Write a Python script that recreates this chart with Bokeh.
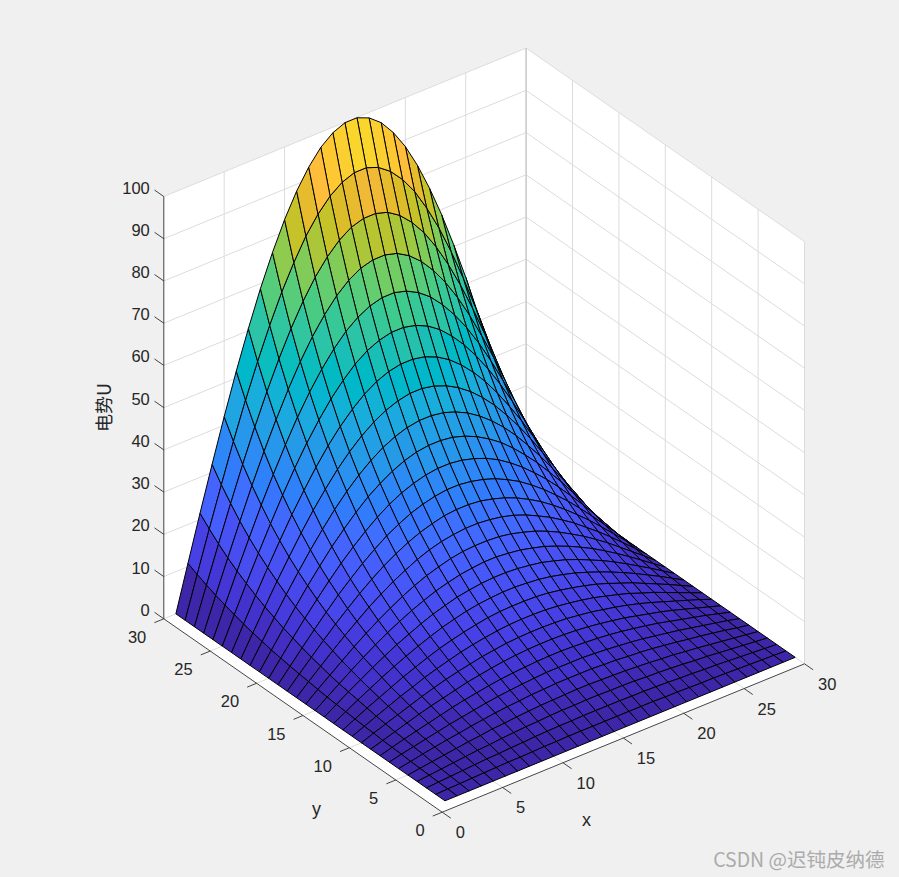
import numpy as np
from bokeh.plotting import figure
from bokeh.models import Range1d
from bokeh.core.properties import value
from bokeh.embed import file_html
from bokeh.resources import INLINE

# U values: rows y = 1..30, columns x = 1..15 (surface is symmetric in x)
U_LEFT = [
[0,0,0,0,0,0,0,0,0,0,0,0,0,0,0],
[0,.1,.2,.3,.4,.5,.6,.6,.7,.8,.8,.9,.9,.9,.9],
[0,.2,.4,.6,.8,1.0,1.1,1.3,1.4,1.6,1.7,1.8,1.8,1.9,1.9],
[0,.3,.6,.9,1.2,1.5,1.7,2.0,2.2,2.4,2.5,2.7,2.8,2.8,2.9],
[0,.4,.8,1.2,1.6,2.0,2.3,2.7,2.9,3.2,3.4,3.6,3.7,3.8,3.9],
[0,.5,1.1,1.6,2.1,2.5,3.0,3.4,3.8,4.1,4.3,4.6,4.7,4.9,4.9],
[0,.7,1.3,1.9,2.5,3.1,3.6,4.1,4.6,5.0,5.3,5.6,5.8,6.0,6.0],
[0,.8,1.6,2.3,3.0,3.7,4.4,5.0,5.5,6.0,6.4,6.7,6.9,7.1,7.2],
[0,.9,1.8,2.7,3.6,4.4,5.1,5.8,6.5,7.0,7.5,7.9,8.2,8.4,8.5],
[0,1.1,2.1,3.1,4.1,5.1,6.0,6.8,7.5,8.1,8.7,9.1,9.5,9.7,9.8],
[0,1.2,2.4,3.6,4.8,5.8,6.9,7.8,8.6,9.4,10.0,10.5,10.9,11.2,11.3],
[0,1.4,2.8,4.1,5.4,6.7,7.8,8.9,9.9,10.7,11.4,12.0,12.5,12.8,12.9],
[0,1.6,3.2,4.7,6.2,7.6,8.9,10.1,11.2,12.2,13.0,13.7,14.2,14.5,14.7],
[0,1.8,3.6,5.3,7.0,8.6,10.1,11.4,12.7,13.8,14.7,15.5,16.0,16.4,16.6],
[0,2.0,4.0,6.0,7.9,9.7,11.4,12.9,14.3,15.5,16.6,17.4,18.1,18.5,18.8],
[0,2.3,4.5,6.7,8.9,10.9,12.8,14.5,16.1,17.5,18.7,19.6,20.4,20.9,21.1],
[0,2.6,5.1,7.6,10.0,12.2,14.4,16.3,18.1,19.6,21.0,22.1,22.9,23.4,23.7],
[0,2.9,5.7,8.5,11.2,13.7,16.1,18.3,20.3,22.0,23.5,24.7,25.6,26.3,26.6],
[0,3.2,6.4,9.5,12.5,15.4,18.0,20.5,22.7,24.7,26.3,27.7,28.7,29.4,29.8],
[0,3.6,7.2,10.7,14.0,17.2,20.2,22.9,25.4,27.6,29.5,31.0,32.1,32.9,33.3],
[0,4.0,8.0,11.9,15.7,19.2,22.6,25.6,28.4,30.9,32.9,34.6,35.9,36.8,37.2],
[0,4.5,9.0,13.3,17.5,21.5,25.2,28.7,31.8,34.5,36.8,38.7,40.1,41.1,41.6],
[0,5.0,10.0,14.9,19.5,24.0,28.2,32.0,35.5,38.5,41.1,43.2,44.8,45.9,46.5],
[0,5.6,11.2,16.6,21.8,26.8,31.4,35.7,39.6,43.0,45.9,48.3,50.1,51.3,51.9],
[0,6.3,12.5,18.5,24.3,29.9,35.1,39.9,44.2,48.0,51.2,53.9,55.9,57.2,57.9],
[0,7.0,13.9,20.6,27.2,33.3,39.1,44.5,49.3,53.5,57.1,60.1,62.3,63.8,64.6],
[0,7.8,15.5,23.0,30.3,37.2,43.6,49.6,55.0,59.7,63.7,67.0,69.5,71.2,72.0],
[0,8.7,17.3,25.7,33.8,41.5,48.7,55.3,61.3,66.6,71.1,74.7,77.5,79.4,80.3],
[0,9.7,19.3,28.6,37.7,46.3,54.3,61.7,68.4,74.2,79.3,83.3,86.4,88.5,89.6],
[0,10.8,21.5,31.9,42.0,51.6,60.5,68.8,76.2,82.8,88.4,92.9,96.4,98.7,99.9],
]
X_TICKS = [0, 5, 10, 15, 20, 25, 30]
Y_TICKS = [0, 5, 10, 15, 20, 25, 30]
Z_TICKS = [0, 10, 20, 30, 40, 50, 60, 70, 80, 90, 100]
X_LABEL = "x"
Y_LABEL = "y"
Z_LABEL = "电势U"
WATERMARK = "CSDN @迟钝皮纳德"
PARULA = [
[.2422,.1504,.6603],[.2504,.1650,.7076],[.2578,.1818,.7511],[.2647,.1978,.7952],
[.2706,.2147,.8364],[.2751,.2342,.8710],[.2783,.2559,.8991],[.2803,.2782,.9221],
[.2813,.3006,.9414],[.2810,.3228,.9579],[.2795,.3447,.9717],[.2760,.3667,.9829],
[.2699,.3892,.9906],[.2602,.4123,.9952],[.2440,.4358,.9988],[.2206,.4603,.9973],
[.1963,.4847,.9892],[.1834,.5074,.9798],[.1786,.5289,.9682],[.1764,.5499,.9520],
[.1687,.5703,.9359],[.1540,.5902,.9218],[.1460,.6091,.9079],[.1380,.6276,.8973],
[.1248,.6459,.8883],[.1113,.6635,.8763],[.0952,.6798,.8598],[.0689,.6948,.8394],
[.0297,.7082,.8163],[.0036,.7203,.7917],[.0067,.7312,.7660],[.0433,.7411,.7394],
[.0964,.7500,.7120],[.1408,.7584,.6842],[.1717,.7670,.6554],[.1938,.7758,.6251],
[.2161,.7843,.5923],[.2470,.7918,.5567],[.2906,.7973,.5188],[.3406,.8008,.4789],
[.3909,.8029,.4354],[.4456,.8024,.3909],[.5044,.7993,.3480],[.5616,.7942,.3045],
[.6174,.7876,.2612],[.6720,.7793,.2227],[.7242,.7698,.1910],[.7738,.7598,.1646],
[.8203,.7498,.1535],[.8634,.7406,.1596],[.9035,.7330,.1774],[.9393,.7288,.2100],
[.9728,.7298,.2394],[.9956,.7434,.2371],[.9970,.7659,.2199],[.9952,.7861,.1963],
[.9892,.8136,.1885],[.9786,.8386,.1766],[.9676,.8639,.1643],[.9610,.8890,.1537],
[.9597,.9135,.1423],[.9628,.9373,.1265],[.9691,.9606,.1064],[.9769,.9839,.0805],
]

half = np.array(U_LEFT, dtype=float)
Z = np.hstack([half, half[:, ::-1]])
ny, nx = Z.shape
gx = np.arange(1, nx + 1, dtype=float)
gy = np.arange(1, ny + 1, dtype=float)


def proj(x, y, z):
    x, y, z = np.asarray(x, float), np.asarray(y, float), np.asarray(z, float)
    return (441.7 + x * 362.3 / 30 - y * 278.4 / 30,
            811.7 - x * 148.4 / 30 - y * 193.4 / 30 - z * 422.3 / 100)


def seg(a, b):
    px, py = proj([a[0], b[0]], [a[1], b[1]], [a[2], b[2]])
    return list(px), list(py)


p = figure(width=899, height=877, x_range=Range1d(0, 899), y_range=Range1d(877, 0),
           output_backend="svg", toolbar_location=None, min_border=0)
p.axis.visible = False
p.grid.visible = False
p.outline_line_color = None
p.background_fill_color = "#f0f0f0"
p.border_fill_color = "#f0f0f0"

# white panes
panes = [[(0, 0, 0), (30, 0, 0), (30, 30, 0), (0, 30, 0)],
         [(0, 30, 0), (30, 30, 0), (30, 30, 100), (0, 30, 100)],
         [(30, 30, 0), (30, 0, 0), (30, 0, 100), (30, 30, 100)]]
pxs, pys = [], []
for pane in panes:
    a = np.array(pane, float)
    u, v = proj(a[:, 0], a[:, 1], a[:, 2])
    pxs.append(list(u)); pys.append(list(v))
p.patches(pxs, pys, fill_color="white", line_color=None)

# grid lines
gxs, gys = [], []
def add(a, b):
    u, v = seg(a, b)
    gxs.append(u); gys.append(v)
for t in X_TICKS[1:]:
    add((t, 0, 0), (t, 30, 0))
    add((t, 30, 0), (t, 30, 100))
for t in Y_TICKS[1:]:
    add((0, t, 0), (30, t, 0))
    add((30, t, 0), (30, t, 100))
add((30, 0, 0), (30, 0, 100))
for t in Z_TICKS[1:]:
    add((0, 30, t), (30, 30, t))
    add((30, 30, t), (30, 0, t))
p.multi_line(gxs, gys, line_color="#dcdcdc", line_width=1)
u, v = seg((30, 30, 0), (30, 30, 100))
p.line(u, v, line_color="#c4c4c4", line_width=1)

# surface, far cells first
cells = []
for j in range(ny - 1):
    for i in range(nx - 1):
        xc = (gx[i] + gx[i + 1]) / 2
        yc = (gy[j] + gy[j + 1]) / 2
        zc = Z[j:j + 2, i:i + 2].mean()
        depth = 117 * xc / 30 + 153 * yc / 30 - 111 * zc / 100
        cells.append((depth, i, j))
cells.sort(reverse=True)
sx, sy, fc = [], [], []
vmax = Z.max()
for _, i, j in cells:
    u, v = proj([gx[i], gx[i + 1], gx[i + 1], gx[i]],
                [gy[j], gy[j], gy[j + 1], gy[j + 1]],
                [Z[j, i], Z[j, i + 1], Z[j + 1, i + 1], Z[j + 1, i]])
    sx.append(list(u)); sy.append(list(v))
    k = min(int(Z[j, i] / vmax * 64), 63)
    r, g, b = PARULA[k]
    fc.append("#%02x%02x%02x" % (round(r * 255), round(g * 255), round(b * 255)))
p.patches(sx, sy, fill_color=fc, line_color="#000000", line_width=1)

# axes and ticks
ax_col = "#262626"
axs, ays = [], []
def addax(a, b):
    u, v = seg(a, b)
    axs.append(u); ays.append(v)
addax((0, 0, 0), (30, 0, 0))
addax((0, 0, 0), (0, 30, 0))
addax((0, 30, 0), (0, 30, 100))
for t in X_TICKS:
    addax((t, 0, 0), (t, -0.93, 0))
for t in Y_TICKS:
    addax((0, t, 0), (-0.78, t, 0))
for t in Z_TICKS:
    addax((0, 30, t), (0, 31, t))
p.multi_line(axs, ays, line_color=ax_col, line_width=1, line_alpha=0.85)

font = value("Liberation Sans")
def labels(ticks, xv, yv, dx, dy, align):
    u = np.asarray(xv) + dx
    v = np.asarray(yv) + dy
    p.text(list(u), list(v), text=[str(t) for t in ticks], text_font=font,
           text_font_size="16.5px", text_color=ax_col, text_align=align,
           text_baseline="middle")

u, v = proj(X_TICKS, np.zeros(7), np.zeros(7))
labels(X_TICKS, u, v, 13.5, 20, "left")
u, v = proj(np.zeros(7), Y_TICKS, np.zeros(7))
labels(Y_TICKS, u, v, -17.5, 18, "right")
u, v = proj(np.zeros(11), np.full(11, 30.0), Z_TICKS)
labels(Z_TICKS, u, v, -14, -9, "right")

p.text([586], [819], text=[X_LABEL], text_font=font, text_font_size="18px",
       text_color=ax_col, text_align="center", text_baseline="middle")
p.text([316], [808], text=[Y_LABEL], text_font=font, text_font_size="18px",
       text_color=ax_col, text_align="center", text_baseline="middle")
p.text([102], [407], text=[Z_LABEL], text_font=value("Noto Sans CJK SC"), text_font_size="18px",
       text_color=ax_col, text_align="center", text_baseline="middle", angle=np.pi / 2)
p.text([884], [858], text=[WATERMARK], text_font=value("Noto Sans CJK SC"), text_font_size="19.5px",
       text_color="#ababab", text_align="right", text_baseline="middle")

html = file_html(p, INLINE)
html = html.replace("</head>", "<style>html,body{background:#f0f0f0;margin:0;}</style></head>", 1)
open("out.html", "w").write(html)
